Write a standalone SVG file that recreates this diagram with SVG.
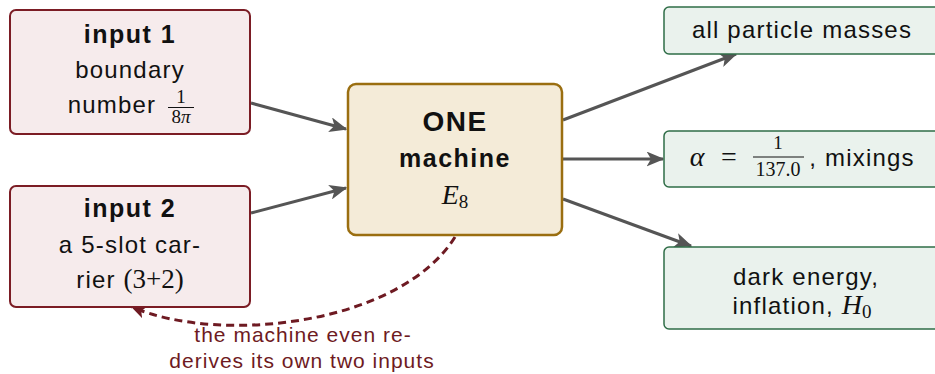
<svg xmlns="http://www.w3.org/2000/svg" width="935" height="374" viewBox="0 0 935 374">
<defs>
<marker id="ah" viewBox="0 0 12 10" refX="11" refY="5" markerWidth="6" markerHeight="5" markerUnits="strokeWidth" orient="auto">
<path d="M0,0 L12,5 L0,10 L3,5 Z" fill="#555555"/>
</marker>
<marker id="ahr" viewBox="0 0 12 10" refX="11" refY="5" markerWidth="5" markerHeight="4.5" markerUnits="strokeWidth" orient="auto">
<path d="M0,0 L12,5 L0,10 L3,5 Z" fill="#6e1a22"/>
</marker>
<style>
.t{font-family:"Liberation Sans","DejaVu Sans",sans-serif;font-size:24px;letter-spacing:1.2px;fill:#111;text-anchor:middle}
.b{font-weight:bold;font-size:25px;letter-spacing:1.5px}
.m{font-family:"Liberation Serif","DejaVu Serif",serif;letter-spacing:0}
.i{font-style:italic}
.fr{font-size:19px}
.in{fill:#f6ebec;stroke:#7b1c24;stroke-width:2}
.mc{fill:#f4ebd8;stroke:#9a6e10;stroke-width:2.5}
.out{fill:#eaf2ed;stroke:#2f6d47;stroke-width:1.5}
.ar{stroke:#555555;stroke-width:3;fill:none;marker-end:url(#ah)}
.lbl{font-family:"Liberation Sans","DejaVu Sans",sans-serif;font-size:21px;letter-spacing:1px;fill:#6e1a22;text-anchor:middle}
</style>
</defs>
<g id="connectors">
<line class="ar" x1="251" y1="103" x2="346" y2="129"/>
<line class="ar" x1="251" y1="213" x2="346" y2="188"/>
<line class="ar" x1="563" y1="120" x2="736" y2="54"/>
<line class="ar" x1="563" y1="159" x2="663" y2="159"/>
<line class="ar" x1="563" y1="199" x2="691" y2="246"/>
<path d="M455,237 C400,325 220,345 132,307" fill="none" stroke="#6e1a22" stroke-width="3" stroke-dasharray="8,5" marker-end="url(#ahr)"/>
<text class="lbl" x="303" y="342">the machine even re-</text>
<text class="lbl" x="302" y="368">derives its own two inputs</text>
</g>
<g id="input1">
<rect class="in" x="10" y="10" width="240" height="124" rx="6"/>
<text class="t b" x="130" y="43">input 1</text>
<text class="t" x="130" y="78">boundary</text>
<text class="t" x="112" y="113">number</text>
<text class="t m fr" x="181" y="103">1</text>
<line x1="168" y1="107.5" x2="194" y2="107.5" stroke="#111" stroke-width="1"/>
<text class="t m fr" x="181" y="123">8<tspan class="i">π</tspan></text>
</g>
<g id="input2">
<rect class="in" x="10" y="186" width="240" height="121" rx="6"/>
<text class="t b" x="130" y="217">input 2</text>
<text class="t" x="130" y="253">a 5-slot car-</text>
<text class="t" x="130" y="288">rier <tspan class="m" style="font-size:27px">(3+2)</tspan></text>
</g>
<g id="machine">
<rect class="mc" x="348" y="84" width="214" height="151" rx="8"/>
<text class="t b" x="455" y="131" style="font-size:28px">ONE</text>
<text class="t b" x="455" y="167">machine</text>
<text class="t m" x="455" y="204" style="font-size:28px"><tspan class="i">E</tspan><tspan style="font-size:19px" dy="4">8</tspan></text>
</g>
<g id="out1">
<rect class="out" x="664" y="7" width="280" height="47" rx="5"/>
<text class="t" x="802" y="38">all particle masses</text>
</g>
<g id="out2">
<rect class="out" x="664" y="131" width="280" height="56" rx="5"/>
<text class="t m i" x="697" y="166" style="font-size:28px">α</text>
<text class="t m" x="729" y="166" style="font-size:28px">=</text>
<text class="t m fr" x="778" y="149">1</text>
<line x1="753" y1="157" x2="804" y2="157" stroke="#111" stroke-width="1"/>
<text class="t m" x="778" y="176" style="font-size:20px">137.0</text>
<text class="t" x="862" y="166">, mixings</text>
</g>
<g id="out3">
<rect class="out" x="664" y="247" width="280" height="82" rx="5"/>
<text class="t" x="806" y="285">dark energy,</text>
<text class="t" x="802" y="314">inflation, <tspan class="m i" style="font-size:28px">H</tspan><tspan class="m" style="font-size:19px" dy="4">0</tspan></text>
</g>
</svg>
